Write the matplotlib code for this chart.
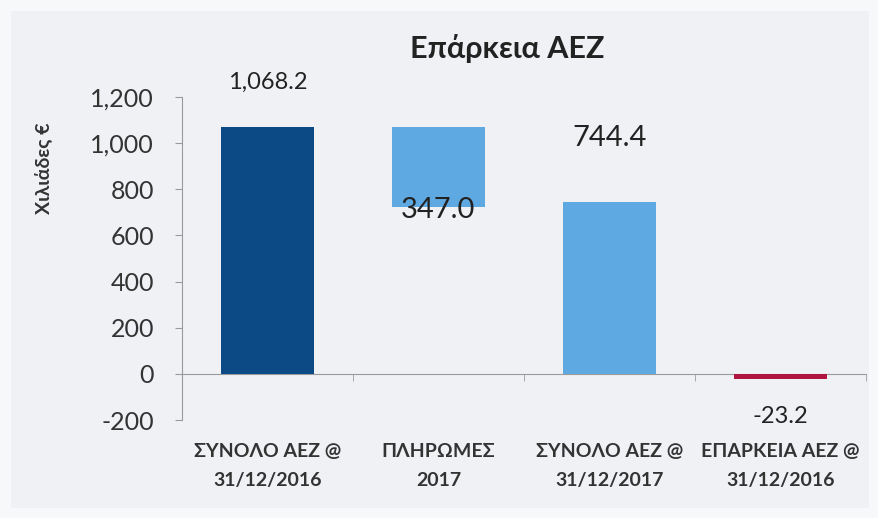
import matplotlib.pyplot as plt
import matplotlib as mpl

mpl.rcParams["font.family"] = ["Lato", "Open Sans", "DejaVu Sans"]

categories = ["ΣΥΝΟΛΟ ΑΕΖ @\n31/12/2016", "ΠΛΗΡΩΜΕΣ\n2017",
              "ΣΥΝΟΛΟ ΑΕΖ @\n31/12/2017", "ΕΠΑΡΚΕΙΑ ΑΕΖ @\n31/12/2016"]
total_2016 = 1068.2
payments_2017 = 347.0
total_2017 = 744.4
adequacy = -23.2
value_labels = ["1,068.2", "347.0", "744.4", "-23.2"]
y_ticks = [-200, 0, 200, 400, 600, 800, 1000, 1200]

heights = [total_2016, payments_2017, total_2017, adequacy]
bottoms = [0, total_2016 - payments_2017, 0, 0]
colors = ["#0b4a84", "#5ea9e2", "#5ea9e2", "#b0153f"]

bg = "#eff1f4"
fig = plt.figure(figsize=(8.79, 5.18), dpi=100, facecolor=bg)
fig.patch.set_edgecolor("#f7f8fa")
fig.patch.set_linewidth(14)
ax = fig.add_axes([0.207, 0.189, 0.778, 0.624])
ax.set_facecolor("none")

x = range(len(categories))
bars = ax.bar(x, heights, bottom=bottoms, width=0.545, color=colors, zorder=3)

ax.set_xlim(-0.5, 3.5)
ax.set_ylim(-200, 1200)
ax.set_yticks(y_ticks)
ax.set_yticklabels([f"{v:,}" for v in y_ticks])

for s in ["top", "right"]:
    ax.spines[s].set_visible(False)
ax.spines["left"].set_color("#9a9a9a")
ax.spines["bottom"].set_color("#9a9a9a")
ax.spines["bottom"].set_position(("data", 0))

ax.tick_params(axis="y", length=5, color="#9a9a9a", pad=15, labelsize=18, labelcolor="#333333")
ax.set_xticks(list(x))
ax.set_xticklabels(categories, fontsize=14, color="#333333", linespacing=1.85, fontweight="bold")
ax.tick_params(axis="x", which="major", length=0, pad=50)
ax.set_xticks([0.5, 1.5, 2.5, 3.5], minor=True)
ax.tick_params(axis="x", which="minor", length=5, color="#9a9a9a", direction="out")

# value labels, placed like the original Excel chart
offsets = [(45, "top"), (-3, "bottom"), (64, "top"), (-37, "bottom")]
sizes = [17, 21, 21, 17]
for b, lab, (off, where), fs in zip(bars, value_labels, offsets, sizes):
    cx = b.get_x() + b.get_width() / 2
    yy = b.get_y() + b.get_height() if where == "top" else b.get_y()
    if b.get_height() < 0:
        yy = b.get_y() + b.get_height()
    ax.annotate(lab, (cx, yy), xytext=(0, off * 0.72), textcoords="offset points",
                ha="center", va="center", fontsize=fs, color="#222222", zorder=4)

ax.set_ylabel("Χιλιάδες €", fontsize=14, color="#333333", fontweight="bold")
ax.yaxis.set_label_coords(-0.19, 0.78)

fig.text(0.577, 0.907, "Επάρκεια ΑΕΖ", ha="center", va="center",
         fontsize=22, fontweight="bold", color="#222222")

fig.savefig("out.png", dpi=100, facecolor=bg, edgecolor=fig.patch.get_edgecolor())
